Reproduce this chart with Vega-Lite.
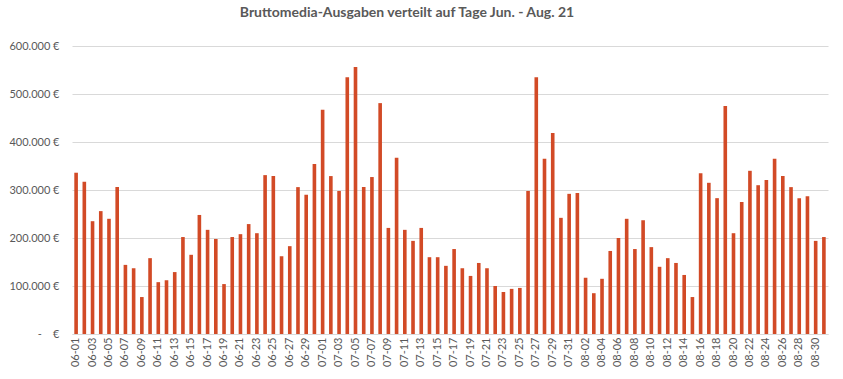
{
  "$schema": "https://vega.github.io/schema/vega-lite/v6.json",
  "autosize": {"type": "none"},
  "padding": {"left": 72, "top": 46, "right": 15, "bottom": 45},
  "width": 756,
  "height": 288,
  "background": "white",
  "title": {
    "text": "Bruttomedia-Ausgaben verteilt auf Tage Jun. - Aug. 21",
    "font": "Lato",
    "fontSize": 14,
    "fontWeight": "bold",
    "color": "#595959",
    "anchor": "middle",
    "frame": "group",
    "dx": -43,
    "offset": 20
  },
  "data": {
    "values": [
      {"d": "06-01", "v": 336000}, {"d": "06-02", "v": 317000}, {"d": "06-03", "v": 235000}, {"d": "06-04", "v": 256000},
      {"d": "06-05", "v": 240000}, {"d": "06-06", "v": 306000}, {"d": "06-07", "v": 144000}, {"d": "06-08", "v": 137000},
      {"d": "06-09", "v": 77000}, {"d": "06-10", "v": 158000}, {"d": "06-11", "v": 108000}, {"d": "06-12", "v": 112000},
      {"d": "06-13", "v": 129000}, {"d": "06-14", "v": 202000}, {"d": "06-15", "v": 165000}, {"d": "06-16", "v": 248000},
      {"d": "06-17", "v": 217000}, {"d": "06-18", "v": 198000}, {"d": "06-19", "v": 104000}, {"d": "06-20", "v": 202000},
      {"d": "06-21", "v": 208000}, {"d": "06-22", "v": 229000}, {"d": "06-23", "v": 210000}, {"d": "06-24", "v": 331000},
      {"d": "06-25", "v": 329000}, {"d": "06-26", "v": 162000}, {"d": "06-27", "v": 183000}, {"d": "06-28", "v": 306000},
      {"d": "06-29", "v": 290000}, {"d": "06-30", "v": 354000},
      {"d": "07-01", "v": 467000}, {"d": "07-02", "v": 329000}, {"d": "07-03", "v": 298000}, {"d": "07-04", "v": 535000},
      {"d": "07-05", "v": 556000}, {"d": "07-06", "v": 306000}, {"d": "07-07", "v": 327000}, {"d": "07-08", "v": 481000},
      {"d": "07-09", "v": 221000}, {"d": "07-10", "v": 367000}, {"d": "07-11", "v": 217000}, {"d": "07-12", "v": 194000},
      {"d": "07-13", "v": 221000}, {"d": "07-14", "v": 160000}, {"d": "07-15", "v": 160000}, {"d": "07-16", "v": 142000},
      {"d": "07-17", "v": 177000}, {"d": "07-18", "v": 137000}, {"d": "07-19", "v": 121000}, {"d": "07-20", "v": 148000},
      {"d": "07-21", "v": 137000}, {"d": "07-22", "v": 100000}, {"d": "07-23", "v": 87500}, {"d": "07-24", "v": 94000},
      {"d": "07-25", "v": 96000}, {"d": "07-26", "v": 298000}, {"d": "07-27", "v": 535000}, {"d": "07-28", "v": 365000},
      {"d": "07-29", "v": 419000}, {"d": "07-30", "v": 242000}, {"d": "07-31", "v": 292000},
      {"d": "08-01", "v": 294000}, {"d": "08-02", "v": 117000}, {"d": "08-03", "v": 85000}, {"d": "08-04", "v": 115000},
      {"d": "08-05", "v": 173000}, {"d": "08-06", "v": 200000}, {"d": "08-07", "v": 240000}, {"d": "08-08", "v": 177000},
      {"d": "08-09", "v": 237000}, {"d": "08-10", "v": 181000}, {"d": "08-11", "v": 140000}, {"d": "08-12", "v": 158000},
      {"d": "08-13", "v": 148000}, {"d": "08-14", "v": 123000}, {"d": "08-15", "v": 77000}, {"d": "08-16", "v": 335000},
      {"d": "08-17", "v": 315000}, {"d": "08-18", "v": 283000}, {"d": "08-19", "v": 475000}, {"d": "08-20", "v": 210000},
      {"d": "08-21", "v": 275000}, {"d": "08-22", "v": 340000}, {"d": "08-23", "v": 310000}, {"d": "08-24", "v": 321000},
      {"d": "08-25", "v": 365000}, {"d": "08-26", "v": 329000}, {"d": "08-27", "v": 306000}, {"d": "08-28", "v": 283000},
      {"d": "08-29", "v": 287000}, {"d": "08-30", "v": 194000}, {"d": "08-31", "v": 202000}
    ]
  },
  "mark": {"type": "bar", "color": "#D24A26"},
  "encoding": {
    "x": {
      "field": "d",
      "type": "ordinal",
      "sort": null,
      "scale": {"paddingInner": 0.56, "paddingOuter": 0.28},
      "axis": {
        "title": null,
        "values": ["06-01","06-03","06-05","06-07","06-09","06-11","06-13","06-15","06-17","06-19","06-21","06-23","06-25","06-27","06-29","07-01","07-03","07-05","07-07","07-09","07-11","07-13","07-15","07-17","07-19","07-21","07-23","07-25","07-27","07-29","07-31","08-02","08-04","08-06","08-08","08-10","08-12","08-14","08-16","08-18","08-20","08-22","08-24","08-26","08-28","08-30"],
        "labelAngle": -90,
        "labelFont": "Lato",
        "labelFontSize": 11,
        "labelColor": "#595959",
        "labelPadding": 3,
        "ticks": false,
        "domainColor": "#D9D9D9",
        "grid": false
      }
    },
    "y": {
      "field": "v",
      "type": "quantitative",
      "scale": {"domain": [0, 600000], "nice": false},
      "axis": {
        "title": null,
        "values": [0, 100000, 200000, 300000, 400000, 500000, 600000],
        "labelExpr": "datum.value == 0 ? '-\u00a0\u00a0\u00a0\u00a0€' : replace(format(datum.value, ','), ',', '.') + ' €'",
        "labelFont": "Lato",
        "labelFontSize": 11,
        "labelColor": "#595959",
        "labelPadding": 13,
        "ticks": false,
        "domain": false,
        "gridColor": "#D9D9D9"
      }
    }
  },
  "config": {"view": {"stroke": null}}
}
